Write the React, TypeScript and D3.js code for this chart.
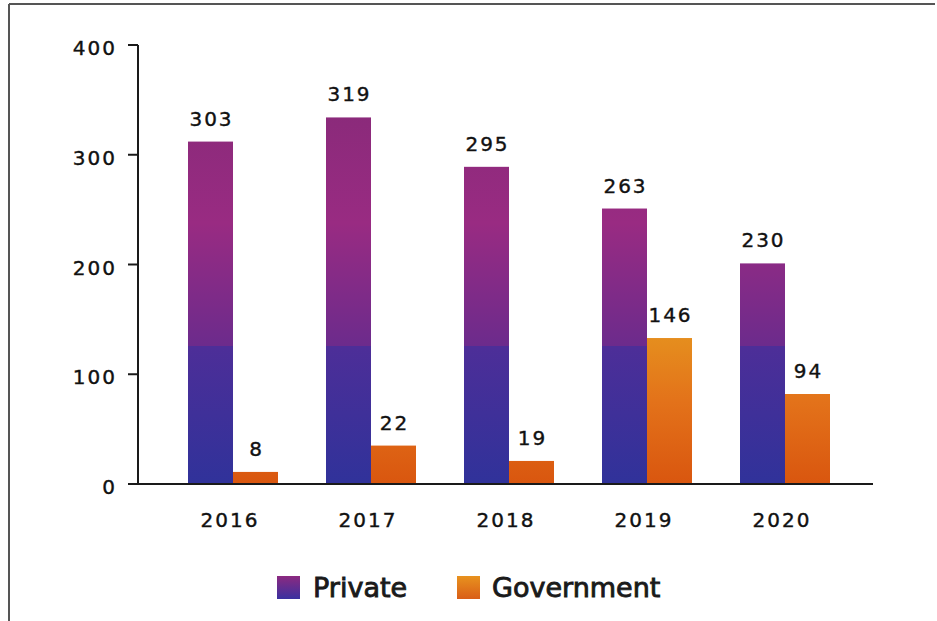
import React from "react";
import * as d3 from "d3";

const years = ["2016", "2017", "2018", "2019", "2020"];
// bar heights as drawn in the picture
const privateValues = [312, 334, 289, 251, 201];
const governmentValues = [11, 35, 21, 133, 82];
// value labels printed above bars
const privateLabels = ["303", "319", "295", "263", "230"];
const governmentLabels = ["8", "22", "19", "146", "94"];
const yTicks = [0, 100, 200, 300, 400];
const seriesNames = ["Private", "Government"];

const W = 937;
const H = 621;
const FONT = "'DejaVu Sans', sans-serif";
const FS = 20;
const LS = 2;

export default function App() {
  const y = d3.scaleLinear().domain([0, 400]).range([484, 45]);
  const x0 = d3.scaleBand<string>().domain(years).range([164, 854]).padding(0);
  const x1 = d3.scaleBand<string>().domain(seriesNames).range([-45, 45]).padding(0);
  const axisLeft = 138;
  const axisRight = 873;

  const series = [
    { name: "Private", values: privateValues, labels: privateLabels, fill: "url(#gradPrivate)" },
    { name: "Government", values: governmentValues, labels: governmentLabels, fill: "url(#gradGov)" },
  ];

  const numStyle = { stroke: "#111", strokeWidth: 0.4 };

  return (
    <div style={{ position: "fixed", left: 0, top: 0, width: W, height: H, background: "#fff" }}>
      <svg width={W} height={H} style={{ display: "block" }}>
        <defs>
          <linearGradient id="gradPrivate" gradientUnits="userSpaceOnUse" x1="0" x2="0" y1={y(340)} y2={y(0)}>
            <stop offset="0" stopColor="#8a2a7a" />
            <stop offset="0.3" stopColor="#992b82" />
            <stop offset="0.63" stopColor="#6c2b8c" />
            <stop offset="0.63" stopColor="#4d2e98" />
            <stop offset="1" stopColor="#30329a" />
          </linearGradient>
          <linearGradient id="gradGov" gradientUnits="userSpaceOnUse" x1="0" x2="0" y1={y(150)} y2={y(0)}>
            <stop offset="0" stopColor="#e6961f" />
            <stop offset="0.5" stopColor="#e3721a" />
            <stop offset="1" stopColor="#d9560f" />
          </linearGradient>
          <linearGradient id="legPrivate" x1="0" x2="0" y1="0" y2="1">
            <stop offset="0" stopColor="#8c2a80" />
            <stop offset="1" stopColor="#3a30a0" />
          </linearGradient>
          <linearGradient id="legGov" x1="0" x2="0" y1="0" y2="1">
            <stop offset="0" stopColor="#e8921e" />
            <stop offset="1" stopColor="#d95e18" />
          </linearGradient>
        </defs>
        <rect x={0} y={0} width={W} height={H} fill="#fff" />
        {/* frame */}
        <line x1={9} y1={4} x2={935} y2={4} stroke="#555" strokeWidth={2} />
        <line x1={9} y1={4} x2={9} y2={621} stroke="#555" strokeWidth={2} />

        {/* bars */}
        {series.map((s) =>
          years.map((yr, i) => {
            const bx = (x0(yr) as number) + x0.bandwidth() / 2 + (x1(s.name) as number);
            const bw = x1.bandwidth();
            const top = y(s.values[i]);
            return (
              <g key={s.name + yr}>
                <rect x={bx} y={top} width={bw} height={y(0) - top} fill={s.fill} />
                <text
                  x={bx + bw / 2 + LS / 2}
                  y={top - 16}
                  textAnchor="middle"
                  fontFamily={FONT}
                  fontSize={FS}
                  letterSpacing={LS}
                  fill="#111"
                  style={numStyle}
                >
                  {s.labels[i]}
                </text>
              </g>
            );
          })
        )}

        {/* y axis */}
        <line x1={axisLeft} y1={y(400)} x2={axisLeft} y2={y(0) + 1} stroke="#1a1a1a" strokeWidth={2} />
        {yTicks.map((t) => (
          <g key={t}>
            <line x1={axisLeft - 10} x2={axisLeft} y1={y(t)} y2={y(t)} stroke="#1a1a1a" strokeWidth={2} />
            <text
              x={117}
              y={y(t) + 10}
              textAnchor="end"
              fontFamily={FONT}
              fontSize={FS}
              letterSpacing={LS}
              fill="#111"
              style={numStyle}
            >
              {t}
            </text>
          </g>
        ))}
        {/* x axis */}
        <line x1={axisLeft} y1={y(0)} x2={axisRight} y2={y(0)} stroke="#1a1a1a" strokeWidth={2} />
        {years.map((yr) => (
          <text
            key={yr}
            x={(x0(yr) as number) + x0.bandwidth() / 2 - 3}
            y={527}
            textAnchor="middle"
            fontFamily={FONT}
            fontSize={FS}
            letterSpacing={LS}
            fill="#111"
            style={numStyle}
          >
            {yr}
          </text>
        ))}

        {/* legend */}
        <rect x={277} y={576} width={23} height={23} fill="url(#legPrivate)" />
        <text x={313} y={597} fontFamily={FONT} fontSize={27} fill="#1a1a1a" stroke="#1a1a1a" strokeWidth={0.9}>
          {seriesNames[0]}
        </text>
        <rect x={457} y={576} width={23} height={23} fill="url(#legGov)" />
        <text x={492} y={597} fontFamily={FONT} fontSize={27} fill="#1a1a1a" stroke="#1a1a1a" strokeWidth={0.9}>
          {seriesNames[1]}
        </text>
      </svg>
    </div>
  );
}
